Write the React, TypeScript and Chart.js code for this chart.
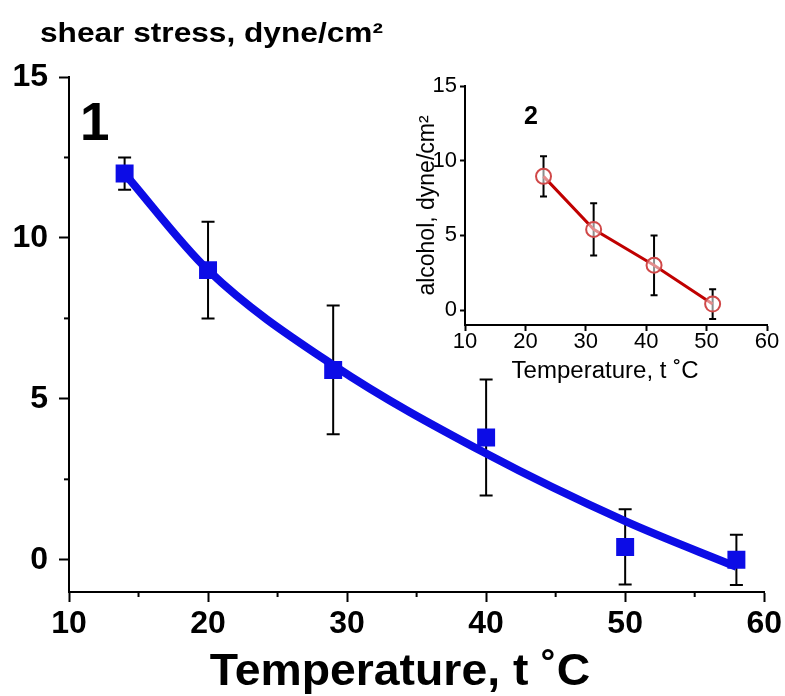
import React, { useEffect, useRef } from 'react';
import { Chart, registerables } from 'chart.js';

Chart.register(...registerables);

// ---------- Main panel (1) data ----------
const mainTemps = [14, 20, 29, 40, 50, 58];
const mainStress = [12, 9, 5.9, 3.8, 0.4, 0];
const mainErr = [0.5, 1.5, 2.0, 1.8, 1.17, 0.78];
const mainFit = [12, 9, 6.05, 3.3, 1.2, -0.22];
const mainXTicks = [10, 20, 30, 40, 50, 60];
const mainYTicks = [0, 5, 10, 15];
const mainXMinor = [15, 25, 35, 45, 55];
const mainYMinor = [2.5, 7.5, 12.5];

// ---------- Inset panel (2) data ----------
const insetTemps = [23, 31.3, 41.3, 51];
const insetStress = [8.95, 5.4, 3.0, 0.4];
const insetErr = [1.35, 1.75, 2.0, 1.0];
const insetXTicks = [10, 20, 30, 40, 50, 60];
const insetYTicks = [0, 5, 10, 15];

const FONT = "'Liberation Sans', Arial, Helvetica, sans-serif";
const BLUE = '#0c0ce6';
const RED = '#c00000';

function errorBarPlugin(id: string, errors: number[], datasetIndex: number, cap: number, width: number) {
  return {
    id,
    beforeDatasetsDraw(chart: any) {
      const ds = chart.data.datasets[datasetIndex];
      const xs = chart.scales.x;
      const ys = chart.scales.y;
      const ctx = chart.ctx;
      ctx.save();
      ctx.strokeStyle = '#000';
      ctx.lineWidth = width;
      ds.data.forEach((p: any, i: number) => {
        const e = errors[i];
        const x = xs.getPixelForValue(p.x);
        const yt = ys.getPixelForValue(p.y + e);
        const yb = ys.getPixelForValue(p.y - e);
        ctx.beginPath();
        ctx.moveTo(x, yt);
        ctx.lineTo(x, yb);
        ctx.moveTo(x - cap, yt);
        ctx.lineTo(x + cap, yt);
        ctx.moveTo(x - cap, yb);
        ctx.lineTo(x + cap, yb);
        ctx.stroke();
      });
      ctx.restore();
    },
  };
}

function minorTickPlugin(id: string, xMinor: number[], yMinor: number[], len: number, width: number) {
  return {
    id,
    afterDraw(chart: any) {
      const { ctx, chartArea } = chart;
      const xs = chart.scales.x;
      const ys = chart.scales.y;
      ctx.save();
      ctx.strokeStyle = '#000';
      ctx.lineWidth = width;
      xMinor.forEach((v) => {
        const px = xs.getPixelForValue(v);
        ctx.beginPath();
        ctx.moveTo(px, chartArea.bottom);
        ctx.lineTo(px, chartArea.bottom + len);
        ctx.stroke();
      });
      yMinor.forEach((v) => {
        const py = ys.getPixelForValue(v);
        ctx.beginPath();
        ctx.moveTo(chartArea.left, py);
        ctx.lineTo(chartArea.left - len, py);
        ctx.stroke();
      });
      ctx.restore();
    },
  };
}

function panelLabelPlugin(id: string, text: string, xVal: number, yVal: number, font: string) {
  return {
    id,
    afterDatasetsDraw(chart: any) {
      const { ctx } = chart;
      const px = chart.scales.x.getPixelForValue(xVal);
      const py = chart.scales.y.getPixelForValue(yVal);
      ctx.save();
      ctx.fillStyle = '#000';
      ctx.font = font;
      ctx.textAlign = 'center';
      ctx.textBaseline = 'middle';
      ctx.fillText(text, px, py);
      ctx.restore();
    },
  };
}

// Free-standing text (axis headings) at a fixed spot on the canvas, optionally stretched horizontally
function textPlugin(
  id: string,
  text: string,
  x: number,
  baseline: number,
  align: 'left' | 'center',
  font: string,
  stretch: number
) {
  return {
    id,
    afterDraw(chart: any) {
      const { ctx } = chart;
      ctx.save();
      ctx.fillStyle = '#000';
      ctx.font = font;
      ctx.textAlign = align;
      ctx.textBaseline = 'alphabetic';
      ctx.translate(x, baseline);
      ctx.scale(stretch, 1);
      ctx.fillText(text, 0, 0);
      ctx.restore();
    },
  };
}

export default function App() {
  const mainRef = useRef<HTMLCanvasElement | null>(null);
  const insetRef = useRef<HTMLCanvasElement | null>(null);

  useEffect(() => {
    document.body.style.margin = '0';
    if (!mainRef.current || !insetRef.current) return;

    const axisGrid = (tickLength: number) => ({
      drawOnChartArea: false,
      drawTicks: true,
      tickLength,
      tickWidth: 2,
      tickColor: '#000',
    });
    const axisBorder = { display: true, color: '#000', width: 2 };

    const main = new Chart(mainRef.current, {
      type: 'line',
      data: {
        datasets: [
          {
            label: 'fit',
            data: mainTemps.map((t, i) => ({ x: t, y: mainFit[i] })),
            borderColor: BLUE,
            borderWidth: 8,
            pointRadius: 0,
            cubicInterpolationMode: 'monotone',
            fill: false,
            order: 2,
          },
          {
            label: 'shear stress',
            data: mainTemps.map((t, i) => ({ x: t, y: mainStress[i] })),
            showLine: false,
            pointStyle: 'rect',
            pointRadius: 12.7,
            pointBackgroundColor: BLUE,
            pointBorderColor: BLUE,
            pointBorderWidth: 0,
            order: 1,
          },
        ],
      } as any,
      options: {
        responsive: false,
        animation: false,
        layout: { padding: { left: 0, right: 17, top: 77, bottom: 0 } },
        plugins: {
          legend: { display: false },
          tooltip: { enabled: false },
          title: { display: false },
        },
        scales: {
          x: {
            type: 'linear',
            min: 10,
            max: 60,
            afterBuildTicks: (s: any) => {
              s.ticks = mainXTicks.map((v) => ({ value: v }));
            },
            afterFit: (s: any) => {
              s.height = 104;
            },
            grid: axisGrid(10),
            border: axisBorder,
            ticks: {
              color: '#000',
              font: { family: FONT, size: 32, weight: 'bold' },
              padding: 3,
              maxRotation: 0,
              autoSkip: false,
            },
            title: { display: false },
          },
          y: {
            type: 'linear',
            min: -1,
            max: 15,
            afterBuildTicks: (s: any) => {
              s.ticks = mainYTicks.map((v) => ({ value: v }));
            },
            afterFit: (s: any) => {
              s.width = 69;
            },
            grid: axisGrid(10),
            border: axisBorder,
            ticks: {
              color: '#000',
              font: { family: FONT, size: 32, weight: 'bold' },
              padding: 11,
            },
          },
        },
      } as any,
      plugins: [
        errorBarPlugin('mainErrors', mainErr, 1, 6.5, 2),
        minorTickPlugin('mainMinor', mainXMinor, mainYMinor, 5, 2),
        panelLabelPlugin('mainLabel', '1', 11.86, 13.5, `bold 53px ${FONT}`),
        textPlugin('mainHeading', 'shear stress, dyne/cm²', 40, 42, 'left', `bold 28px ${FONT}`, 1.13),
        textPlugin('mainXTitle', 'Temperature, t ˚C', 400, 685, 'center', `bold 45px ${FONT}`, 1.03),
      ] as any,
    });

    const inset = new Chart(insetRef.current, {
      type: 'line',
      data: {
        datasets: [
          {
            label: 'alcohol',
            data: insetTemps.map((t, i) => ({ x: t, y: insetStress[i] })),
            borderColor: RED,
            borderWidth: 3,
            tension: 0,
            pointStyle: 'circle',
            pointRadius: 7.5,
            pointBackgroundColor: 'rgba(255,255,255,0.55)',
            pointBorderColor: '#d04848',
            pointBorderWidth: 2,
            fill: false,
          },
        ],
      } as any,
      options: {
        responsive: false,
        animation: false,
        layout: { padding: { left: 0, right: 18, top: 26, bottom: 0 } },
        plugins: {
          legend: { display: false },
          tooltip: { enabled: false },
        },
        scales: {
          x: {
            type: 'linear',
            min: 10,
            max: 60,
            afterBuildTicks: (s: any) => {
              s.ticks = insetXTicks.map((v) => ({ value: v }));
            },
            afterFit: (s: any) => {
              s.height = 75;
            },
            grid: axisGrid(6),
            border: axisBorder,
            ticks: {
              color: '#000',
              font: { family: FONT, size: 22 },
              padding: -2,
              maxRotation: 0,
              autoSkip: false,
            },
            title: { display: false },
          },
          y: {
            type: 'linear',
            min: -1,
            max: 15,
            afterBuildTicks: (s: any) => {
              s.ticks = insetYTicks.map((v) => ({ value: v }));
            },
            afterFit: (s: any) => {
              s.width = 85;
            },
            grid: axisGrid(5),
            border: axisBorder,
            ticks: {
              color: '#000',
              font: { family: FONT, size: 22 },
              padding: 3,
            },
            title: {
              display: true,
              text: 'alcohol, dyne/cm²',
              color: '#000',
              font: { family: FONT, size: 23 },
              padding: { top: 34, bottom: 0 },
            },
          },
        },
      } as any,
      plugins: [
        errorBarPlugin('insetErrors', insetErr, 0, 3.5, 2),
        panelLabelPlugin('insetLabel', '2', 20.9, 12.9, `bold 25px ${FONT}`),
        textPlugin('insetXTitle', 'Temperature, t ˚C', 225, 318, 'center', `23px ${FONT}`, 1.045),
      ] as any,
    });

    return () => {
      main.destroy();
      inset.destroy();
    };
  }, []);

  return (
    <div style={{ position: 'relative', width: 785, height: 696, background: '#fff' }}>
      <canvas ref={mainRef} width={785} height={696} style={{ position: 'absolute', left: 0, top: 0 }} />
      <canvas ref={insetRef} width={405} height={340} style={{ position: 'absolute', left: 380, top: 60 }} />
    </div>
  );
}
